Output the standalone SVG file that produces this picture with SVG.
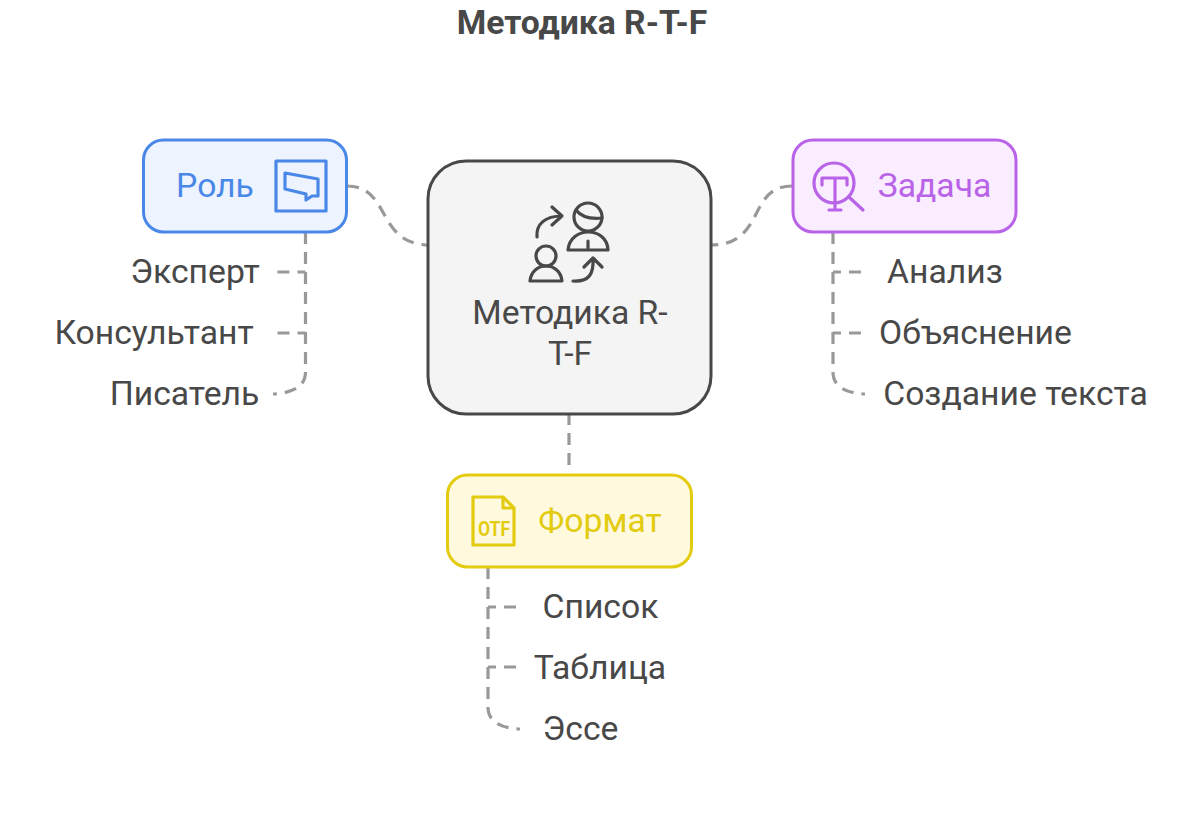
<svg xmlns="http://www.w3.org/2000/svg" width="1200" height="832" viewBox="0 0 1200 832">
<style>
text{font-family:Roboto,"Liberation Sans",sans-serif;font-size:33.7px;fill:#484848}
.t{text-anchor:middle}
.c{fill:none;stroke:#999;stroke-width:3.200;stroke-dasharray:12 8}
.b{stroke-dashoffset:4}
.box{stroke-width:3}
.i{fill:none;stroke-width:3.200;stroke-linecap:round;stroke-linejoin:round}
</style>
<rect width="1200" height="832" fill="#fff"/>
<text id="title" x="582" y="34" class="t" style="font-weight:700">Методика R-T-F</text>
<g id="connectors">
<path class="c" d="M347 186C392 186 375 245 430 245"/>
<path class="c" d="M792 186C747 186 766 245 711 245"/>
<path class="c" d="M569 413V465"/>
<path class="c b" d="M305.500 272H274"/>
<path class="c b" d="M305.500 333H274"/>
<path class="c" d="M305.500 232V372C305.500 385 295 393 273 394"/>
<path class="c b" d="M833 272H865"/>
<path class="c b" d="M833 333H865"/>
<path class="c" d="M833 232V372C833 385 843 393 865 394"/>
<path class="c b" d="M488 607H519"/>
<path class="c b" d="M488 667H519"/>
<path class="c" d="M488 567V707C488 720 498 728 520 729"/>
</g>
<g id="node-center">
<rect x="428" y="161" width="283" height="253" rx="38" fill="#f4f4f4" stroke="#484848" stroke-width="3"/>
<g class="i" stroke="#484848">
<circle cx="588" cy="217" r="14"/>
<path d="M576 210C582 218 592 219 602 218"/>
<path d="M568 250C570 226 607 226 608 250Z"/>
<path d="M588 241V249"/>
<circle cx="546" cy="256" r="10"/>
<path d="M530 281C532 261 560 261 562 281Z"/>
<path d="M537 237C536 224 545 216 562 216M552 207L562 216L552 225"/>
<path d="M573 281C589 282 594 274 593 258M584 267L593 258L602 267"/>
</g>
<text x="570" y="324" class="t">Методика R-</text>
<text x="570" y="365" class="t">T-F</text>
</g>
<g id="node-role">
<rect x="143.500" y="140" width="203" height="92" rx="20" fill="#edf3ff" stroke="#4a88e8" class="box"/>
<text x="215" y="197" class="t" style="fill:#4a88e8">Роль</text>
<g class="i" stroke="#4a88e8">
<rect x="276" y="161" width="50" height="50"/>
<path d="M285 173L318 179V196H312L306 200V194L285 189Z"/>
</g>
</g>
<g id="node-task">
<rect x="793" y="140" width="223" height="92" rx="20" fill="#f9edff" stroke="#b963e8" class="box"/>
<text x="934.500" y="197" class="t" style="fill:#b963e8">Задача</text>
<g class="i" stroke="#b963e8">
<circle cx="834" cy="183" r="20"/>
<path d="M822 185V178H847V185M835 178V210M829 210H841M850 198L863 210"/>
</g>
</g>
<g id="node-format">
<rect x="447.500" y="475" width="244" height="92" rx="20" fill="#fff9dd" stroke="#e3cb10" class="box"/>
<text x="600" y="532" class="t" style="fill:#e3cb10">Формат</text>
<g class="i" stroke="#e3cb10">
<path d="M473 497H503L514 508V545H473ZM503 497V508H514"/>
<text x="494" y="536" class="t" textLength="32" lengthAdjust="spacingAndGlyphs" style="font-size:20px;font-weight:700;fill:#e3cb10;stroke:none">OTF</text>
</g>
</g>
<g id="leaves">
<text x="195" y="283" class="t">Эксперт</text>
<text x="154" y="344" class="t">Консультант</text>
<text x="184.500" y="405" class="t">Писатель</text>
<text x="945" y="283" class="t">Анализ</text>
<text x="975.500" y="344" class="t">Объяснение</text>
<text x="1015.500" y="405" class="t">Создание текста</text>
<text x="600.500" y="618" class="t">Список</text>
<text x="600" y="679" class="t">Таблица</text>
<text x="580.500" y="740" class="t">Эссе</text>
</g>
</svg>
